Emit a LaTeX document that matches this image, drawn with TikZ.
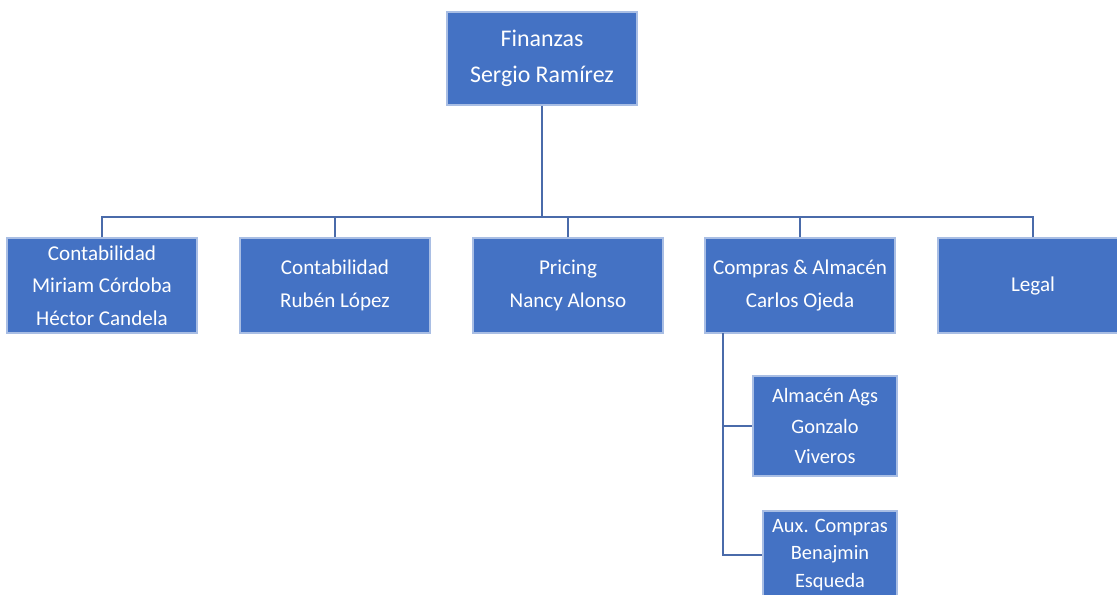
\documentclass[tikz,border=0pt]{standalone}
\usepackage{fontspec}
\setmainfont{Carlito}
\definecolor{boxblue}{HTML}{4472C4}
\definecolor{boxedge}{HTML}{A9BEE4}
\definecolor{linkblue}{HTML}{4A6BAA}
\tikzset{
  unit/.style={rectangle,fill=boxblue,draw=boxedge,line width=0.8pt,text=white,
    align=center,inner sep=0pt,minimum width=4.75cm,minimum height=2.375cm,
    font=\fontsize{15}{23}\selectfont},
  head/.style={unit,font=\fontsize{17}{25.6}\selectfont,minimum height=2.325cm},
  link/.style={draw=linkblue,line width=1.1pt}
}
\begin{document}
\begin{tikzpicture}[x=0.025cm,y=-0.025cm]
  \clip (0,0) rectangle (1117,594);
  \useasboundingbox (0,0) rectangle (1117,594);

  % Head
  \node[head] (fin) at (542,58.5) {Finanzas\\Sergio Ramírez};

  % Departments
  \node[unit] (cont1) at (102,285.5) {Contabilidad\\Miriam Córdoba\\Héctor Candela};
  \node[unit] (cont2) at (335,285.5) {Contabilidad\\Rubén López};
  \node[unit] (pricing) at (568,285.5) {Pricing\\Nancy Alonso};
  \node[unit] (compras) at (800,285.5) {Compras \& Almacén\\Carlos Ojeda};
  \node[unit] (legal) at (1033,285.5) {Legal};

  % Under Compras
  \node[unit,minimum width=3.6cm,minimum height=2.5cm,font=\fontsize{14.5}{21.7}\selectfont]
    (almacen) at (825,426) {Almacén Ags\\Gonzalo\\Viveros};
  \node[unit,minimum width=3.35cm,minimum height=2.2cm,font=\fontsize{14.5}{19.5}\selectfont]
    (aux) at (830,555) {Aux. Compras\\Benajmin\\Esqueda};

  % Connectors
  \coordinate (bus) at (542,217);
  \draw[link,line width=1.6pt] (fin) -- (bus);
  \foreach \n in {cont1,cont2,pricing,compras,legal}
    \draw[link] (\n.north) |- (bus);
  \coordinate (trunk) at (723,333);
  \draw[link] (trunk) |- (almacen.west);
  \draw[link] (trunk) |- (aux.west);
\end{tikzpicture}
\end{document}
